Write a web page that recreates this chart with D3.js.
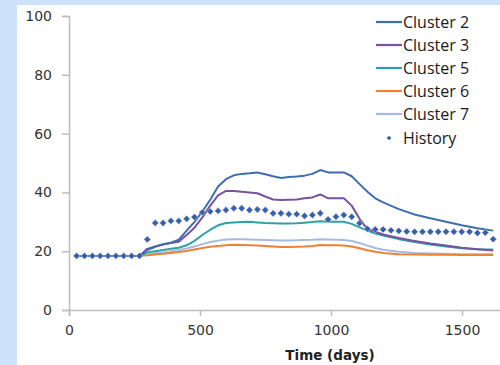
<!DOCTYPE html>
<html>
<head>
<meta charset="utf-8">
<script src="https://cdn.jsdelivr.net/npm/d3@7"></script>
<style>
  html, body { margin: 0; padding: 0; background: #cde3fb; }
  svg { display: block; }
</style>
</head>
<body>
<svg id="chart" width="500" height="365"></svg>
<script>
// Simulated output per cluster, sampled in days
const lineDays = [29, 269, 299, 329, 359, 389, 419, 449, 479, 509, 539, 569, 599, 629, 659, 689, 719, 749, 779, 809,
  839, 869, 899, 929, 959, 989, 1019, 1049, 1079, 1109, 1139, 1169, 1199, 1259, 1319, 1379, 1439, 1499, 1559, 1619];

const cluster2 = [18.4, 18.4, 20.4, 21.5, 22.4, 22.9, 23.9, 27.0, 30.0, 33.5, 37.5, 42.0, 44.5, 45.8, 46.3, 46.5, 46.8, 46.2, 45.5, 44.9,
  45.2, 45.4, 45.7, 46.3, 47.6, 46.8, 46.8, 46.8, 45.5, 42.8, 40.2, 38.0, 36.6, 34.3, 32.5, 31.2, 30.0, 28.8, 27.8, 27.0];
const cluster3 = [18.4, 18.4, 20.8, 21.6, 22.3, 22.8, 23.2, 25.5, 28.0, 31.5, 35.5, 39.0, 40.5, 40.5, 40.2, 40.0, 39.7, 38.6, 37.6, 37.4,
  37.5, 37.6, 38.0, 38.3, 39.3, 38.0, 38.0, 38.0, 35.5, 31.0, 27.5, 26.6, 25.7, 24.5, 23.5, 22.6, 21.9, 21.2, 20.7, 20.2];
const cluster5 = [18.4, 18.4, 19.6, 20.0, 20.4, 20.8, 21.2, 22.0, 23.5, 25.5, 27.3, 28.8, 29.6, 29.8, 29.9, 30.0, 29.8, 29.6, 29.5, 29.4,
  29.4, 29.5, 29.7, 29.9, 30.2, 30.0, 30.0, 30.0, 29.3, 28.1, 27.0, 26.0, 25.3, 24.1, 23.1, 22.3, 21.6, 21.0, 20.7, 20.6];
const cluster6 = [18.4, 18.4, 18.6, 18.9, 19.1, 19.4, 19.7, 20.1, 20.6, 21.1, 21.5, 21.8, 22.0, 22.2, 22.1, 22.0, 21.9, 21.8, 21.6, 21.4,
  21.4, 21.5, 21.6, 21.8, 22.1, 22.0, 22.0, 21.9, 21.6, 21.0, 20.3, 19.8, 19.4, 19.0, 18.9, 18.8, 18.8, 18.7, 18.7, 18.7];
const cluster7 = [18.4, 18.4, 19.0, 19.3, 19.6, 20.0, 20.4, 20.9, 21.6, 22.4, 23.1, 23.6, 24.0, 24.1, 24.1, 24.0, 23.9, 23.8, 23.7, 23.6,
  23.6, 23.7, 23.8, 23.9, 24.1, 24.0, 23.9, 23.8, 23.5, 22.8, 21.9, 21.1, 20.5, 19.8, 19.4, 19.2, 19.1, 19.0, 19.0, 19.0];

// Observed history, one point per month
const historyDays = [29, 59, 89, 119, 149, 179, 209, 239, 269, 299, 329, 359, 389, 419, 449, 479, 509, 539, 569, 599,
  629, 659, 689, 719, 749, 779, 809, 839, 869, 899, 929, 959, 989, 1019, 1049, 1079, 1109, 1139, 1169, 1199,
  1229, 1259, 1289, 1319, 1349, 1379, 1409, 1439, 1469, 1499, 1529, 1559, 1589, 1619];
const historyValues = [18.4, 18.4, 18.4, 18.4, 18.4, 18.4, 18.4, 18.4, 18.4, 24.0, 29.6, 29.6, 30.3, 30.3, 31.0, 31.6, 33.2, 33.5, 33.7, 34.0,
  34.6, 34.6, 34.0, 34.2, 34.0, 32.9, 32.9, 32.6, 32.6, 32.0, 32.3, 32.9, 30.8, 31.7, 32.3, 31.7, 29.5, 27.6, 27.4, 27.4,
  27.1, 26.9, 26.7, 26.6, 26.6, 26.6, 26.6, 26.6, 26.6, 26.6, 26.6, 26.2, 26.3, 24.1];

const seriesNames = ["Cluster 2", "Cluster 3", "Cluster 5", "Cluster 6", "Cluster 7"];
const seriesColors = ["#3e6db0", "#7652a0", "#2f9fac", "#ec8236", "#a7badf"];
const historyName = "History";
const historyColor = "#2c63b0";

const yTicks = [0, 20, 40, 60, 80, 100];
const xTicks = [0, 500, 1000, 1500];
const xTitle = "Time (days)";

const seriesValues = [cluster2, cluster3, cluster5, cluster6, cluster7];

const svg = d3.select("#chart");

// white panel
svg.append("rect").attr("x", 17).attr("y", 5).attr("width", 483).attr("height", 360).attr("fill", "#ffffff");

const x = d3.scaleLinear().domain([0, 1650]).range([69, 501.3]);
const y = d3.scaleLinear().domain([0, 100]).range([310, 16]);

const axisColor = "#bdbdbd";
const labelColor = "#333333";

// y axis
const yAxis = svg.append("g").attr("transform", "translate(69,0)")
  .call(d3.axisLeft(y).tickValues(yTicks).tickSize(7).tickPadding(10).tickFormat(d3.format("d")));
// x axis
const xAxis = svg.append("g").attr("transform", "translate(0,310)")
  .call(d3.axisBottom(x).tickValues(xTicks).tickSize(6).tickPadding(9).tickFormat(d3.format("d")));

[yAxis, xAxis].forEach(g => {
  g.select(".domain").attr("stroke", axisColor).attr("stroke-width", 1.5);
  g.selectAll(".tick line").attr("stroke", axisColor).attr("stroke-width", 1.5);
  g.selectAll(".tick text").attr("fill", labelColor)
    .style("font-family", "'DejaVu Sans', Verdana, sans-serif").style("font-size", "14px");
});

// axis title
svg.append("text").attr("x", 330).attr("y", 360).attr("text-anchor", "middle")
  .attr("fill", "#222").style("font-family", "'DejaVu Sans', Verdana, sans-serif")
  .style("font-size", "13.5px").style("font-weight", "bold").text(xTitle);

// cluster lines (drawn back to front)
const line = d3.line().x((d, i) => x(lineDays[i])).y(d => y(d));
const drawOrder = [4, 3, 2, 1, 0];
drawOrder.forEach(k => {
  svg.append("path").datum(seriesValues[k])
    .attr("fill", "none").attr("stroke", seriesColors[k]).attr("stroke-width", 2)
    .attr("stroke-linejoin", "round").attr("d", line);
});

// history markers
const diamond = d3.symbol().type(d3.symbolDiamond2).size(30);
svg.append("g").selectAll("path").data(historyValues).join("path")
  .attr("transform", (d, i) => `translate(${x(historyDays[i])},${y(d)})`)
  .attr("d", diamond).attr("fill", historyColor)
  .attr("stroke", "#f0c4c4").attr("stroke-width", 0.6);

// legend
const legendFont = "'Open Sans', 'Noto Sans', sans-serif";
const lg = svg.append("g");
seriesNames.forEach((name, k) => {
  const yy = 22 + k * 23;
  lg.append("line").attr("x1", 376).attr("x2", 402).attr("y1", yy).attr("y2", yy)
    .attr("stroke", seriesColors[k]).attr("stroke-width", 2.2);
  lg.append("text").attr("x", 403).attr("y", yy).attr("dy", "0.36em")
    .attr("fill", "#1a1a1a").style("font-family", legendFont).style("font-size", "16px").text(name);
});
{
  const yy = 22 + 5 * 23 + 1;
  lg.append("path").attr("transform", `translate(389,${yy})`)
    .attr("d", d3.symbol().type(d3.symbolDiamond2).size(14)).attr("fill", historyColor);
  lg.append("text").attr("x", 403).attr("y", yy).attr("dy", "0.36em")
    .attr("fill", "#1a1a1a").style("font-family", legendFont).style("font-size", "16px").text(historyName);
}
</script>
</body>
</html>
